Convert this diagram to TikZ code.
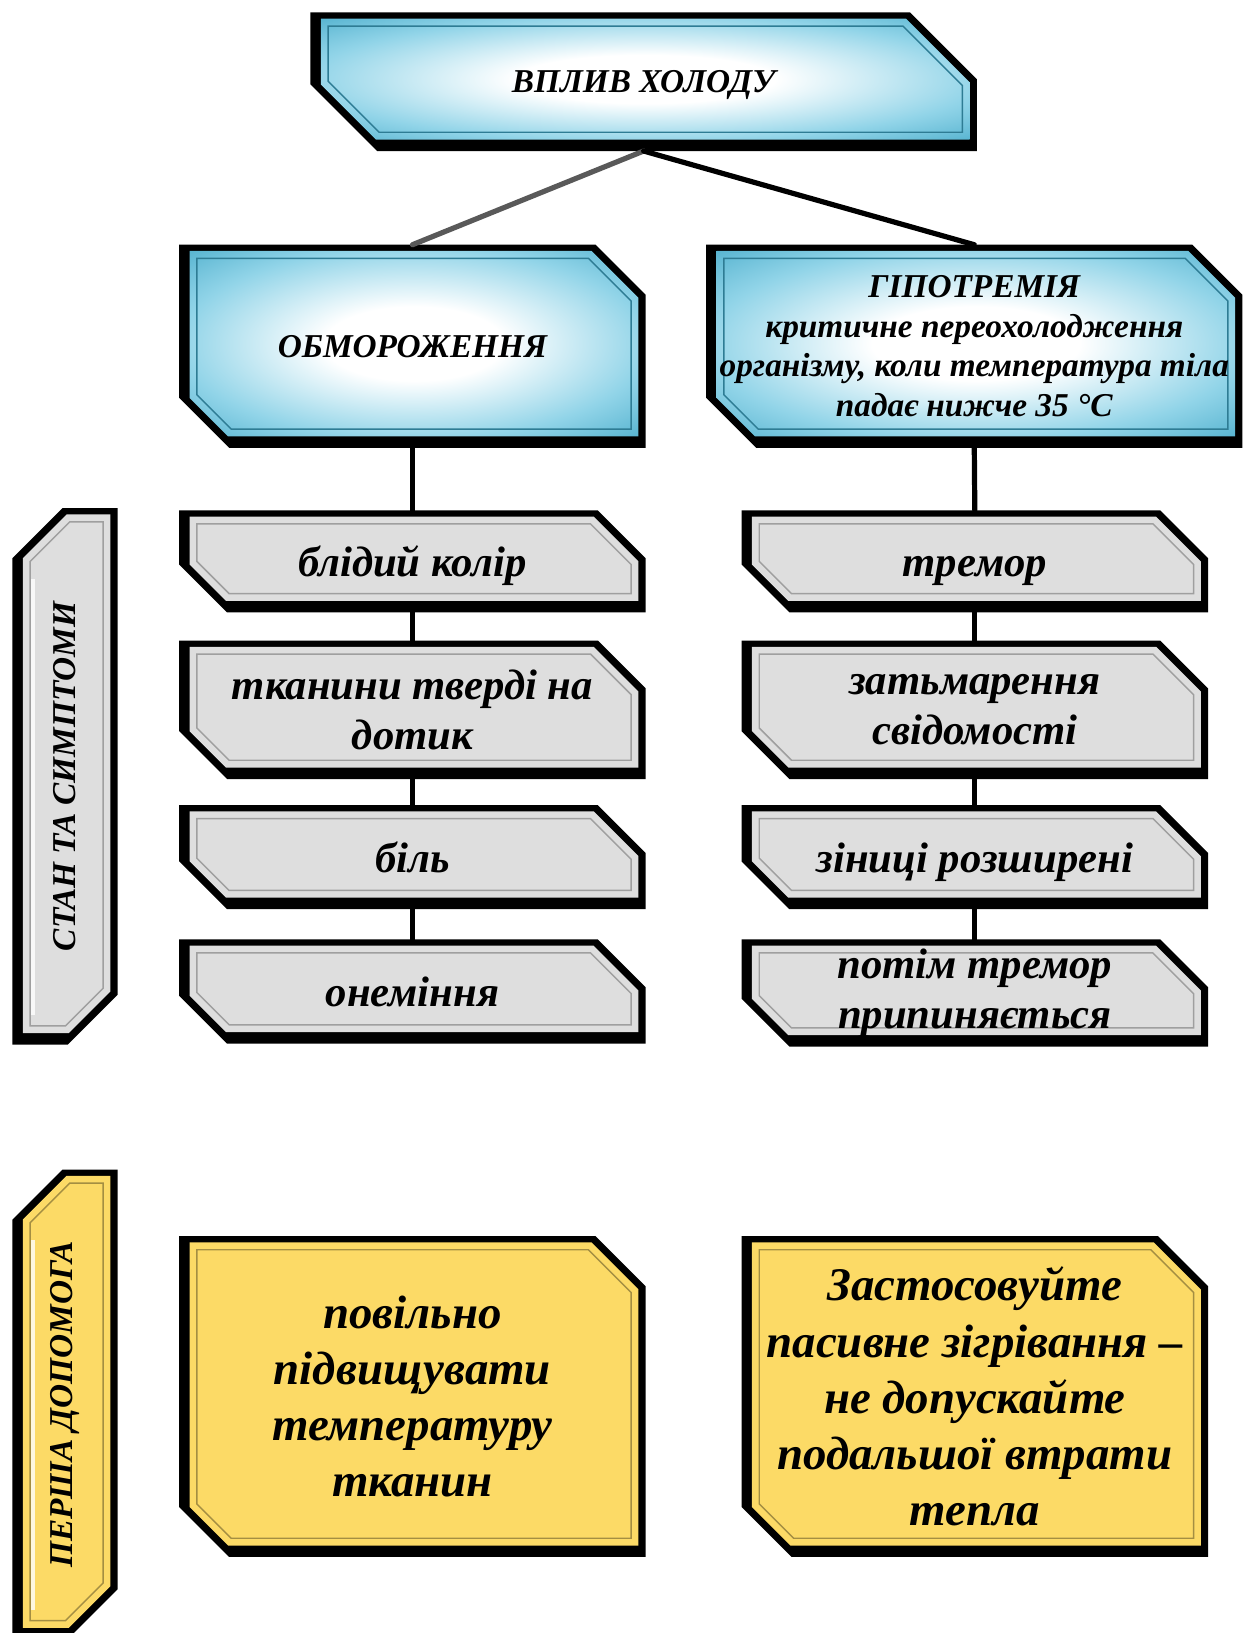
\documentclass[tikz,border=0pt]{standalone}
\usepackage{fontspec}
\setmainfont{Liberation Serif}
\usetikzlibrary{backgrounds}
\definecolor{bblue}{RGB}{62,166,198}
\definecolor{bbmid}{RGB}{145,212,232}
\definecolor{gfill}{RGB}{222,222,222}
\definecolor{yfill}{RGB}{252,218,102}
\pgfdeclareradialshading{bluebox}{\pgfpoint{0bp}{0bp}}{color(0bp)=(white); color(10bp)=(white); color(26bp)=(bbmid); color(40bp)=(bblue); color(100bp)=(bblue)}
% horizontal snip polygon: node, cut, top, right, bottom, left insets, k
\newcommand\hpoly[7]{([xshift=#6,yshift=-#3]#1.north west) -- ([xshift=-(#2+#7-#3),yshift=-#3]#1.north east) -- ([xshift=-#4,yshift=-(#2+#7-#4)]#1.north east) -- ([xshift=-#4,yshift=#5]#1.south east) -- ([xshift=#2+#7-#5,yshift=#5]#1.south west) -- ([xshift=#6,yshift=#2+#7-#6]#1.south west) -- cycle}
% vertical snip polygon (top-left and bottom-right cut)
\newcommand\vpoly[7]{([xshift=#6,yshift=-(#2+#7-#6)]#1.north west) -- ([xshift=#2+#7-#3,yshift=-#3]#1.north west) -- ([xshift=-#4,yshift=-#3]#1.north east) -- ([xshift=-#4,yshift=#2+#7-#4]#1.south east) -- ([xshift=-(#2+#7-#5),yshift=#5]#1.south east) -- ([xshift=#6,yshift=#5]#1.south west) -- cycle}
\newcommand\drawhsnip[4]{%
  \begin{scope}[on background layer]
    \fill[black] \hpoly{#1}{#2}{0pt}{0pt}{0pt}{0pt}{0pt};
    \path[#3] \hpoly{#1}{#2}{3pt}{3.5pt}{5.5pt}{5pt}{5pt};
    \draw[#4, line width=0.7pt] \hpoly{#1}{#2}{6.5pt}{7pt}{9pt}{8.5pt}{10pt};
  \end{scope}}
\newcommand\drawvsnip[4]{%
  \begin{scope}[on background layer]
    \fill[black] \vpoly{#1}{#2}{0pt}{0pt}{0pt}{0pt}{0pt};
    \path[#3] \vpoly{#1}{#2}{3pt}{3.5pt}{5.5pt}{5pt}{5pt};
    \draw[#4, line width=0.7pt] \vpoly{#1}{#2}{6.5pt}{7pt}{9pt}{8.5pt}{10pt};
    \draw[white, line width=2pt, opacity=0.8] ([xshift=10pt,yshift=-34pt]#1.north west) -- ([xshift=10pt,yshift=14pt]#1.south west);
  \end{scope}}
\tikzset{
  lbl/.style={inner sep=0pt, outer sep=0pt, align=center, text=black},
  capline/.style={text height=13.3pt, text depth=3pt},
  lowline/.style={text height=18pt, text depth=3.1pt},
  bluefill/.style={shade, shading=bluebox},
  grayfill/.style={fill=gfill},
  yellowfill/.style={fill=yfill},
  conn/.style={line width=2.5pt, line cap=round, black},
  f16/.style={font=\fontsize{16pt}{19pt}\selectfont\bfseries\itshape},
  fhyp/.style={font=\fontsize{16pt}{19pt}\selectfont\bfseries\itshape},
  f19/.style={font=\fontsize{20.5pt}{24pt}\selectfont\bfseries\itshape},
  f22/.style={font=\fontsize{22.5pt}{27pt}\selectfont\bfseries\itshape},
}
\begin{document}
\begin{tikzpicture}[x=0.5pt, y=-0.5pt]
\useasboundingbox (0,0) rectangle (1199,1568);
% top
\node[lbl, f16, capline, minimum width=320pt, minimum height=66.5pt] (top) at (618,78.5) {ВПЛИВ ХОЛОДУ};
\drawhsnip{top}{32pt}{bluefill}{bblue!75!black}
\node[lbl, f16, capline, minimum width=224pt, minimum height=97.5pt] (obm) at (396,332.5) {ОБМОРОЖЕННЯ};
\drawhsnip{obm}{24pt}{bluefill}{bblue!75!black}
\node[lbl, fhyp, minimum width=257.5pt, minimum height=97.5pt] (hypo) at (935.5,332.5) {ГІПОТРЕМІЯ\\критичне переохолодження\\організму, коли температура тіла\\падає нижче 35 °C};
\drawhsnip{hypo}{24pt}{bluefill}{bblue!75!black}
% gray left
\node[lbl, f19, lowline, minimum width=224pt, minimum height=49pt] (gl1) at (396,539) {блідий колір};
\node[lbl, f19, minimum width=224pt, minimum height=66.5pt] (gl2) at (396,681.5) {тканини тверді на\\дотик};
\node[lbl, f19, lowline, minimum width=224pt, minimum height=50pt] (gl3) at (396,823) {біль};
\node[lbl, f19, lowline, minimum width=224pt, minimum height=50pt] (gl4) at (396,952) {онеміння};
% gray right
\node[lbl, f19, lowline, minimum width=224pt, minimum height=49pt] (gr1) at (936,539) {тремор};
\node[lbl, f19, minimum width=224pt, minimum height=66.5pt] (gr2) at (936,681.5) {затьмарення\\свідомості};
\node[lbl, f19, lowline, minimum width=224pt, minimum height=50pt] (gr3) at (936,823) {зіниці розширені};
\node[lbl, f19, minimum width=224pt, minimum height=51.5pt] (gr4) at (936,953.5) {потім тремор\\припиняється};
\foreach \n in {gl1,gl2,gl3,gl4,gr1,gr2,gr3,gr4}{\drawhsnip{\n}{23pt}{grayfill}{gray!75}}
% yellow
\node[lbl, f22, minimum width=224pt, minimum height=154pt] (yl) at (396,1341) {повільно\\підвищувати\\температуру\\тканин};
\node[lbl, f22, minimum width=224pt, minimum height=154pt] (yr) at (936,1341) {Застосовуйте\\пасивне зігрівання –\\не допускайте\\подальшої втрати\\тепла};
\drawhsnip{yl}{24pt}{yellowfill}{yfill!65!black}
\drawhsnip{yr}{24pt}{yellowfill}{yfill!65!black}
% side boxes
\node[lbl, f16, minimum width=50.5pt, minimum height=257.5pt] (side1) at (62.5,745.5) {\rotatebox{90}{СТАН ТА СИМПТОМИ}};
\drawvsnip{side1}{24pt}{grayfill}{gray!75}
\node[lbl, f16, minimum width=50.5pt, minimum height=225.5pt] (side2) at (62.5,1348.5) {\rotatebox{90}{ПЕРША ДОПОМОГА}};
\drawvsnip{side2}{24pt}{yellowfill}{yfill!65!black}
% connectors
\draw[conn, black!65] (top.south) -- (obm.north);
\draw[conn] (top.south) -- (hypo.north);
\draw[conn] (obm.south) -- (gl1.north);
\draw[conn] (hypo.south) -- (gr1.north);
\draw[conn] (gl1.south) -- (gl2.north);
\draw[conn] (gl2.south) -- (gl3.north);
\draw[conn] (gl3.south) -- (gl4.north);
\draw[conn] (gr1.south) -- (gr2.north);
\draw[conn] (gr2.south) -- (gr3.north);
\draw[conn] (gr3.south) -- (gr4.north);
\end{tikzpicture}
\end{document}
